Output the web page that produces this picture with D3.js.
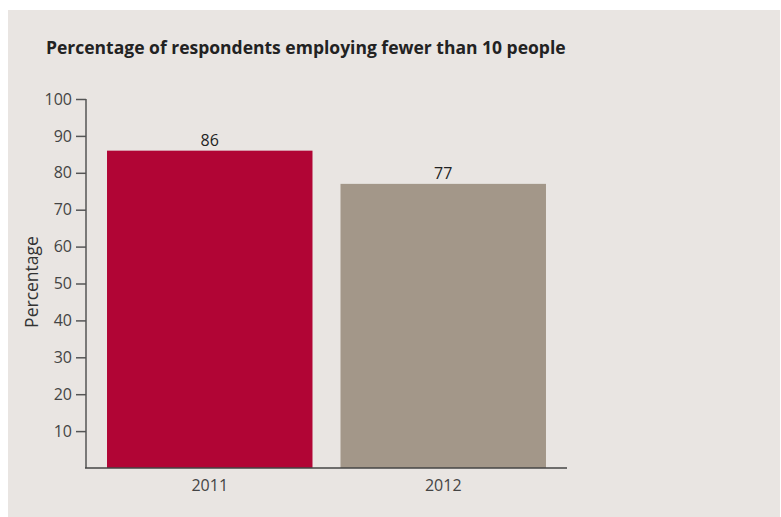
<!DOCTYPE html>
<html>
<head>
<meta charset="utf-8">
<script src="https://cdn.jsdelivr.net/npm/d3@7"></script>
<style>
  body { margin: 0; background: #fff; }
  svg { display: block; }
</style>
</head>
<body>
<div id="chart"></div>
<script>
// data
const years = ['2011', '2012'];
const shares = [86, 77];
const barColors = ['#b10535', '#a39789'];
const yTicks = [10, 20, 30, 40, 50, 60, 70, 80, 90, 100];

const width = 781, height = 517;
const font = '"Open Sans", "Noto Sans", sans-serif';

const svg = d3.select('#chart')
  .append('svg')
  .attr('width', width)
  .attr('height', height);

// panel
svg.append('rect')
  .attr('x', 8)
  .attr('y', 10)
  .attr('width', 772)
  .attr('height', 507)
  .attr('fill', '#e9e5e2');

svg.append('text')
  .attr('x', 46)
  .attr('y', 54)
  .attr('font-family', font)
  .attr('font-size', 17.5)
  .attr('font-weight', 'bold')
  .attr('fill', '#222')
  .text('Percentage of respondents employing fewer than 10 people');

const x = d3.scaleBand()
  .domain(years)
  .range([86, 567])
  .paddingInner(0.12)
  .paddingOuter(0.09);

const y = d3.scaleLinear()
  .domain([0, 100])
  .range([468, 99]);

// bars
svg.selectAll('.bar')
  .data(years)
  .enter().append('rect')
  .attr('class', 'bar')
  .attr('x', d => x(d))
  .attr('width', x.bandwidth())
  .attr('y', (d, i) => y(shares[i]))
  .attr('height', (d, i) => y(0) - y(shares[i]))
  .attr('fill', (d, i) => barColors[i]);

svg.selectAll('.val')
  .data(years)
  .enter().append('text')
  .attr('class', 'val')
  .attr('x', d => x(d) + x.bandwidth() / 2)
  .attr('y', (d, i) => y(shares[i]) - 5)
  .attr('text-anchor', 'middle')
  .attr('font-family', font)
  .attr('font-size', 16)
  .attr('fill', '#222')
  .text((d, i) => shares[i]);

// y axis
const yAxis = svg.append('g')
  .attr('transform', 'translate(86,0)')
  .call(d3.axisLeft(y).tickValues(yTicks).tickSize(10).tickPadding(4).tickSizeOuter(0));
yAxis.select('.domain').remove();
yAxis.append('line')
  .attr('x1', 0).attr('x2', 0)
  .attr('y1', y(100)).attr('y2', y(0))
  .attr('stroke', '#555').attr('stroke-width', 1.5);
yAxis.selectAll('.tick line').attr('stroke', '#555').attr('stroke-width', 1.5);
yAxis.selectAll('.tick text')
  .attr('font-family', font)
  .attr('font-size', 16)
  .attr('fill', '#444');

// x axis
const xAxis = svg.append('g')
  .attr('transform', `translate(0,${y(0)})`)
  .call(d3.axisBottom(x).tickSize(0).tickPadding(12));
xAxis.select('.domain')
  .attr('d', 'M85,0H567')
  .attr('stroke', '#444').attr('stroke-width', 1.5);
xAxis.selectAll('.tick text')
  .attr('font-family', font)
  .attr('font-size', 16)
  .attr('fill', '#444');

svg.append('text')
  .attr('transform', 'translate(38,282) rotate(-90)')
  .attr('text-anchor', 'middle')
  .attr('font-family', font)
  .attr('font-size', 17.5)
  .attr('fill', '#333')
  .text('Percentage');
</script>
</body>
</html>
